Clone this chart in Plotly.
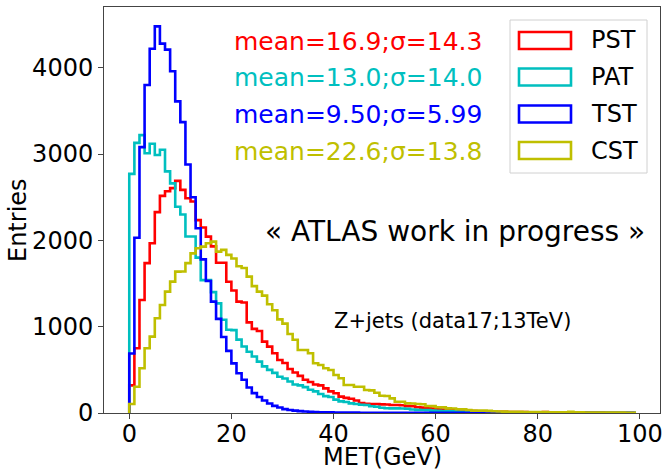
import plotly.graph_objects as go

# ---------------- data ----------------
bin_edges = list(range(0, 100))  # 99 bins of 1 GeV, 0..99

series_names = ["PST", "PAT", "TST", "CST"]

pst = [320, 750, 1310, 1736, 1967, 2327, 2516, 2570, 2605, 2690,
       2585, 2489, 2450, 2235, 2150, 2044, 1930, 1740, 1740, 1520,
       1420, 1290, 1280, 1050, 975, 950, 827, 769, 692, 614,
       580, 510, 470, 430, 385, 360, 330, 320, 285, 250,
       228, 190, 175, 165, 145, 115, 108, 105, 105, 100,
       98, 93, 92, 90, 80, 78, 66, 62, 55, 52,
       45, 40, 38, 35, 30, 28, 25, 22, 20, 18,
       16, 15, 14, 13, 12, 11, 10, 10, 9, 9,
       8, 12, 8, 7, 7, 6, 6, 5, 5, 5,
       4, 4, 4, 3, 3, 3, 3, 2, 2]

pat = [2770, 3130, 3220, 3010, 3120, 2990, 3050, 2800, 2660, 2390,
       2300, 2045, 2045, 1800, 1540, 1540, 1400, 1270, 1080, 965,
       960, 850, 770, 710, 655, 595, 540, 500, 465, 420,
       400, 365, 330, 320, 300, 270, 250, 220, 195, 185,
       155, 135, 128, 112, 105, 95, 92, 78, 73, 60,
       55, 54, 54, 52, 50, 40, 36, 35, 33, 28,
       26, 24, 22, 20, 18, 16, 15, 13, 12, 11,
       10, 9, 9, 8, 8, 7, 7, 6, 6, 5,
       5, 5, 4, 4, 4, 3, 3, 3, 3, 2,
       2, 2, 2, 2, 1, 1, 1, 1, 1]

tst = [690, 2030, 3080, 3800, 4220, 4480, 4280, 4210, 3960, 3610,
       3370, 2880, 2500, 2140, 1780, 1530, 1290, 1090, 880, 720,
       575, 460, 385, 295, 230, 185, 145, 110, 83, 63,
       45, 35, 27, 22, 17, 14, 11, 9, 8, 7,
       6, 5, 5, 4, 4, 3, 3, 3, 2, 2,
       2, 2, 1, 1, 1, 1, 1, 1, 1, 1,
       1, 1, 1, 1, 1, 1, 1, 1, 1, 1,
       1, 1, 1, 1, 1, 1, 1, 0, 0, 0,
       0, 0, 0, 0, 0, 0, 0, 0, 0, 0,
       0, 0, 0, 0, 0, 0, 0, 0, 0]

cst = [104, 305, 518, 750, 885, 1098, 1252, 1406, 1522, 1638,
       1640, 1736, 1850, 1909, 1928, 1967, 1986, 1870, 1890, 1832,
       1790, 1700, 1680, 1580, 1470, 1406, 1360, 1260, 1190, 1085,
       1035, 915, 848, 730, 730, 692, 576, 556, 518, 499,
       440, 402, 325, 325, 305, 305, 267, 262, 235, 200,
       197, 170, 131, 130, 112, 110, 104, 102, 81, 80,
       66, 65, 54, 53, 43, 42, 35, 28, 27, 27,
       25, 20, 18, 16, 15, 14, 13, 12, 12, 11,
       10, 10, 9, 9, 8, 8, 14, 7, 7, 6,
       6, 5, 5, 5, 4, 4, 4, 3, 3]

stat_labels = ["mean=16.9;σ=14.3", "mean=13.0;σ=14.0",
               "mean=9.50;σ=5.99", "mean=22.6;σ=13.8"]

x_title = "MET(GeV)"
y_title = "Entries"
x_ticks = [0, 20, 40, 60, 80, 100]
y_ticks = [0, 1000, 2000, 3000, 4000]

colors = ["#ff0000", "#00bfbf", "#0000ff", "#bfbf00"]
values = [pst, pat, tst, cst]

# ---------------- figure ----------------
FONT = "DejaVu Sans"
W, H = 664, 469
L, R, T, B = 104, 660, 7, 413


def px(x):
    return (x - L) / (R - L)


def py(y):
    return (B - y) / (B - T)


fig = go.Figure()
for name, vals, col in zip(series_names, values, colors):
    xs = [bin_edges[0]] + bin_edges[:-1] + [bin_edges[-1]]
    ys = [0] + vals + [0]
    fig.add_trace(go.Scatter(
        x=xs, y=ys, mode="lines", name=name,
        line=dict(color=col, width=2.6, shape="hv"),
        showlegend=False, hoverinfo="skip"))

xmin, xmax = bin_edges[0], bin_edges[-1]
xm = 0.05 * (xmax - xmin)
ymax = max(max(v) for v in values) * 1.05

fig.update_layout(
    width=W, height=H,
    margin=dict(l=L, r=W - R, t=T, b=H - B, pad=0),
    paper_bgcolor="white", plot_bgcolor="white",
    font=dict(family=FONT, size=24, color="black"),
    xaxis=dict(range=[xmin - xm, xmax + xm], tickvals=x_ticks,
               ticks="outside", ticklen=5, tickwidth=1, tickcolor="#444",
               ticklabelstandoff=-6,
               showline=True, linecolor="#444", linewidth=1, mirror=True,
               showgrid=False, zeroline=False,
               tickfont=dict(size=24, family=FONT),
               automargin=False),
    yaxis=dict(range=[0, ymax], tickvals=y_ticks,
               ticks="outside", ticklen=5, tickwidth=1, tickcolor="#444",
               showline=True, linecolor="#444", linewidth=1, mirror=True,
               showgrid=False, zeroline=False,
               tickfont=dict(size=24, family=FONT),
               automargin=False),
)

# axis titles
fig.add_annotation(xref="paper", yref="paper", x=0.5, y=py(457),
                   text=x_title, showarrow=False, xanchor="center",
                   yanchor="middle", font=dict(size=24, family=FONT))
fig.add_annotation(xref="paper", yref="paper", x=px(18), y=py(220),
                   text=y_title, showarrow=False, textangle=-90,
                   xanchor="center", yanchor="middle",
                   font=dict(size=24, family=FONT))

# statistics text
stat_y = [41.5, 78, 114.5, 151]
for lab, col, yy in zip(stat_labels, colors, stat_y):
    fig.add_annotation(xref="paper", yref="paper", x=px(232), y=py(yy),
                       text=lab, showarrow=False, xanchor="left",
                       yanchor="middle", font=dict(size=25, color=col,
                                                   family=FONT))

# legend (drawn manually to mimic outlined patches)
fig.add_shape(type="rect", xref="paper", yref="paper",
              x0=px(510), x1=px(647), y0=py(173), y1=py(20),
              line=dict(color="#d0d0d0", width=1),
              fillcolor="rgba(255,255,255,0.8)", layer="above")
leg_y = [40.5, 77, 114, 150.5]
for name, col, yy in zip(series_names, colors, leg_y):
    fig.add_shape(type="rect", xref="paper", yref="paper",
                  x0=px(519), x1=px(571), y0=py(yy + 8.5), y1=py(yy - 8.5),
                  line=dict(color=col, width=2.6),
                  fillcolor="rgba(0,0,0,0)", layer="above")
    fig.add_annotation(xref="paper", yref="paper", x=px(589), y=py(yy),
                       text=name, showarrow=False, xanchor="left",
                       yanchor="middle",
                       font=dict(size=24, color="black", family=FONT))

fig.add_annotation(xref="paper", yref="paper", x=px(455), y=py(231),
                   text="« ATLAS work in progress »", showarrow=False,
                   xanchor="center", yanchor="middle",
                   font=dict(size=28, color="black", family=FONT))
fig.add_annotation(xref="paper", yref="paper", x=px(452), y=py(321),
                   text="Z+jets (data17;13TeV)", showarrow=False,
                   xanchor="center", yanchor="middle",
                   font=dict(size=21, color="black", family=FONT))

fig.write_html("out.html",
               config={"displayModeBar": False},
               post_script="document.body.style.margin='0px';"
                           "document.body.style.overflow='hidden';")
